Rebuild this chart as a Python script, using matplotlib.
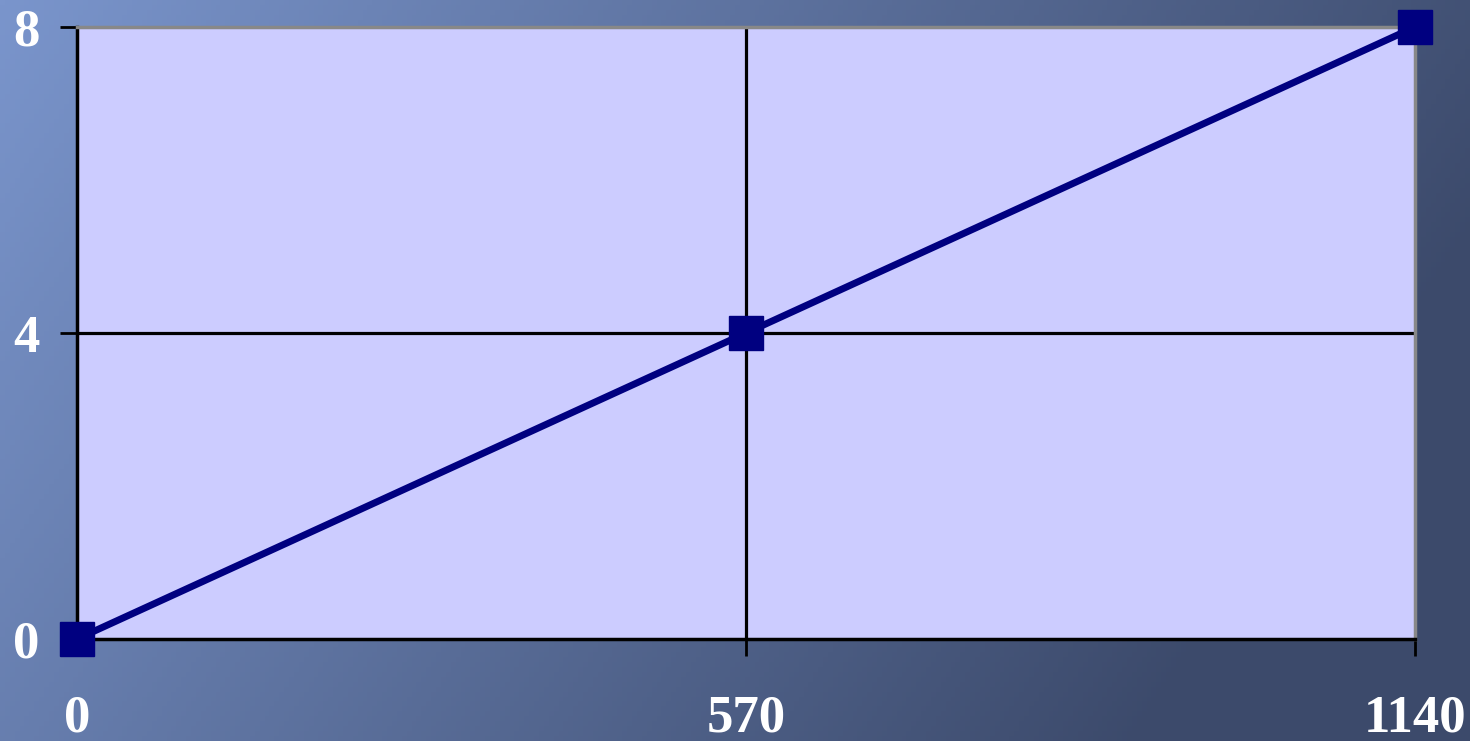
import numpy as np
import matplotlib
matplotlib.use('Agg')
import matplotlib.pyplot as plt

# data
x_vals = [0, 570, 1140]
y_vals = [0, 4, 8]
x_ticks = [0, 570, 1140]
y_ticks = [0, 4, 8]

fig = plt.figure(figsize=(14.7, 7.41), dpi=100)

# background gradient
bg = fig.add_axes([0, 0, 1, 1])
w, h = 300, 150
xx, yy = np.meshgrid(np.linspace(0, 1, w), np.linspace(0, 1, h))
t = np.clip(0.9 * xx + 0.3 * yy, 0, 1)
light = np.array([0x7a, 0x95, 0xcc]) / 255
dark = np.array([0x3c, 0x4a, 0x6b]) / 255
img = light[None, None, :] * (1 - t[..., None]) + dark[None, None, :] * t[..., None]
bg.imshow(img, aspect='auto', extent=[0, 1, 0, 1], origin='upper')
bg.axis('off')

ax = fig.add_axes([77/1470, 1 - 639/741, (1415-77)/1470, (639-27)/741])
ax.set_facecolor('#CCCCFF')
ax.set_xlim(0, 1140)
ax.set_ylim(0, 8)

ax.plot(x_vals, y_vals, color='#000080', lw=5, marker='s', ms=25,
        mfc='#000080', mec='#000080', clip_on=False, zorder=5)

ax.set_xticks(x_ticks)
ax.set_yticks(y_ticks)
ax.axvline(570, color='black', lw=2.3, zorder=1)
ax.axhline(4, color='black', lw=2.3, zorder=1)

for s in ['left', 'bottom']:
    ax.spines[s].set_color('black')
    ax.spines[s].set_linewidth(2.5)
for s in ['top', 'right']:
    ax.spines[s].set_color('#888888')
    ax.spines[s].set_linewidth(2.5)

font = dict(family='Liberation Serif', weight='bold', size=38, color='white')
ax.set_xticklabels([str(v) for v in x_ticks], **font)
ax.set_yticklabels([str(v) for v in y_ticks], **font)
ax.tick_params(axis='x', length=12, width=2, color='black', pad=28)
ax.tick_params(axis='y', length=12, width=2, color='black', pad=15)

fig.savefig('out.png', dpi=100)
